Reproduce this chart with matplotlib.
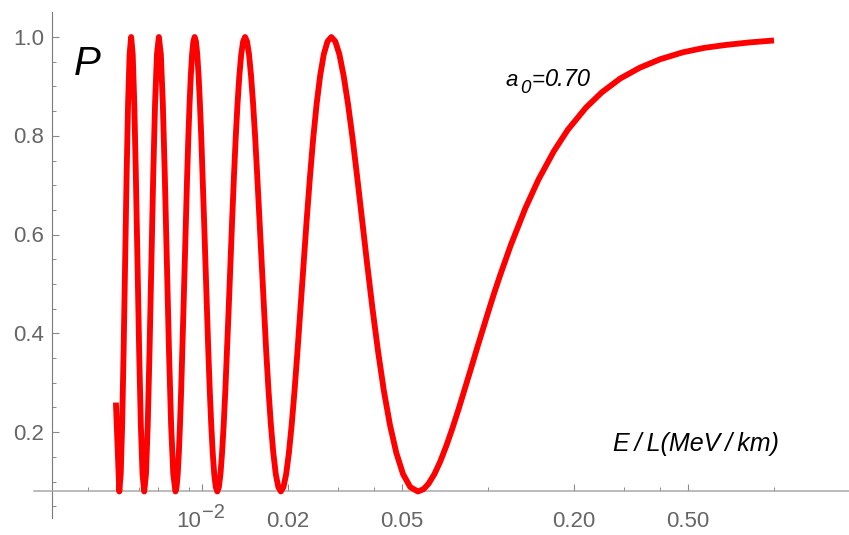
import matplotlib
matplotlib.use("Agg")
import matplotlib.pyplot as plt
from matplotlib.ticker import FixedLocator, NullFormatter

# ---- data ----
E_L = [0.005,
       0.0051387, 0.0051978, 0.0052583, 0.0053202, 0.0053836, 0.0054485, 0.0055150, 0.0055831,
       0.0056529, 0.0057245, 0.0057979, 0.0058733, 0.0059506, 0.0060300, 0.0061115, 0.0061953,
       0.0062814, 0.0063699, 0.0064610, 0.0065547, 0.0066511, 0.0067505, 0.0068528, 0.0069583,
       0.0070671, 0.0071794, 0.0072953, 0.0074150, 0.0075386, 0.0076665, 0.0077988, 0.0079357,
       0.0080775, 0.0081504, 0.0082245, 0.0083000, 0.0083770, 0.0084553, 0.0085351, 0.0086165,
       0.0086994, 0.0087840, 0.0088702, 0.0089581, 0.0090477, 0.0091392, 0.0092325, 0.0093278,
       0.0094251, 0.0095244, 0.0096258, 0.0097294, 0.0098353, 0.0099434, 0.010054, 0.010167,
       0.010283, 0.010401, 0.010522, 0.010646, 0.010773, 0.010903, 0.011036, 0.011172,
       0.011312, 0.011456, 0.011603, 0.011753, 0.011908, 0.012067, 0.012230, 0.012398,
       0.012571, 0.012748, 0.012930, 0.013118, 0.013311, 0.013510, 0.013715, 0.013926,
       0.014144, 0.014369, 0.014601, 0.014841, 0.015089, 0.015345, 0.015610, 0.015884,
       0.016168, 0.016463, 0.016768, 0.017085, 0.017414, 0.017756, 0.018112, 0.018482,
       0.018868, 0.019270, 0.019690, 0.020128, 0.020587, 0.021067, 0.021569, 0.022096,
       0.022650, 0.023232, 0.023845, 0.024491, 0.025173, 0.025894, 0.026658, 0.027468,
       0.028329, 0.029245, 0.030223, 0.031268, 0.032389, 0.033592, 0.034889, 0.036290,
       0.037807, 0.039457, 0.041258, 0.043232, 0.045403, 0.047804, 0.050473, 0.053458,
       0.056818,
       0.0595, 0.062, 0.065, 0.068, 0.0715, 0.075, 0.079, 0.083, 0.087, 0.092, 0.096,
       0.10, 0.105, 0.11, 0.12, 0.135, 0.15, 0.17, 0.19, 0.22, 0.25, 0.29, 0.34, 0.40,
       0.48, 0.57, 0.68, 0.82, 1.0]

P = [0.26,
     0.08, 0.115, 0.215, 0.364, 0.54, 0.716, 0.865, 0.965,
     1.0, 0.965, 0.865, 0.716, 0.54, 0.364, 0.215, 0.115,
     0.08, 0.115, 0.215, 0.364, 0.54, 0.716, 0.865, 0.965,
     1.0, 0.965, 0.865, 0.716, 0.54, 0.364, 0.215, 0.115,
     0.08, 0.089, 0.115, 0.158, 0.215, 0.284, 0.364, 0.450,
     0.54, 0.630, 0.716, 0.796, 0.865, 0.922, 0.965, 0.991,
     1.0, 0.991, 0.965, 0.922, 0.865, 0.796, 0.716, 0.630,
     0.54, 0.450, 0.364, 0.284, 0.215, 0.158, 0.115, 0.089,
     0.08, 0.089, 0.115, 0.158, 0.215, 0.284, 0.364, 0.450,
     0.54, 0.630, 0.716, 0.796, 0.865, 0.922, 0.965, 0.991,
     1.0, 0.991, 0.965, 0.922, 0.865, 0.796, 0.716, 0.630,
     0.54, 0.450, 0.364, 0.284, 0.215, 0.158, 0.115, 0.089,
     0.08, 0.089, 0.115, 0.158, 0.215, 0.284, 0.364, 0.450,
     0.54, 0.630, 0.716, 0.796, 0.865, 0.922, 0.965, 0.991,
     1.0, 0.991, 0.965, 0.922, 0.865, 0.796, 0.716, 0.630,
     0.54, 0.450, 0.364, 0.284, 0.215, 0.158, 0.115, 0.089,
     0.08,
     0.0846, 0.096, 0.1155, 0.140, 0.1725, 0.207, 0.2476, 0.288, 0.327, 0.374, 0.409,
     0.442, 0.481, 0.516, 0.578, 0.653, 0.711, 0.769, 0.812, 0.857, 0.888, 0.916, 0.938,
     0.955, 0.969, 0.978, 0.984, 0.989, 0.993]

x_major_ticks = [0.01, 0.02, 0.05, 0.2, 0.5]
x_major_labels = ["10", "0.02", "0.05", "0.20", "0.50"]
x_minor_ticks = [0.004, 0.005, 0.006, 0.007, 0.008, 0.009, 0.03, 0.04, 0.1, 0.3, 0.4, 1.0]
y_major_ticks = [0.2, 0.4, 0.6, 0.8, 1.0]
y_major_labels = ["0.2", "0.4", "0.6", "0.8", "1.0"]
y_minor_ticks = [0.05, 0.1, 0.15, 0.25, 0.3, 0.35, 0.45, 0.5, 0.55, 0.65, 0.7, 0.75,
                 0.85, 0.9, 0.95]

FONT = ["Liberation Sans", "DejaVu Sans"]
plt.rcParams["font.family"] = FONT

W, H = 849, 535
fig = plt.figure(figsize=(W / 100, H / 100), dpi=100)
ax = fig.add_axes([0, 0, 1, 1])
ax.set_xscale("log")
ax.set_xlim(0.0019667, 1.8288)
ax.set_ylim(-0.0081, 1.0749)

for s in ("top", "right"):
    ax.spines[s].set_visible(False)
ax.spines["left"].set_position(("data", 0.003))
ax.spines["bottom"].set_position(("data", 0.08))
ax.spines["left"].set_bounds(0.026, 1.05)
ax.spines["bottom"].set_bounds(0.00259, 1.8288)
ax.spines["left"].set_color("#7a7a7a")
ax.spines["left"].set_linewidth(0.8)
ax.spines["bottom"].set_color("#a8a8a8")
ax.spines["bottom"].set_linewidth(1.1)

ax.xaxis.set_major_locator(FixedLocator(x_major_ticks))
ax.xaxis.set_minor_locator(FixedLocator(x_minor_ticks))
ax.yaxis.set_major_locator(FixedLocator(y_major_ticks))
ax.yaxis.set_minor_locator(FixedLocator(y_minor_ticks))
for a in (ax.xaxis, ax.yaxis):
    a.set_major_formatter(NullFormatter())
    a.set_minor_formatter(NullFormatter())
ax.tick_params(axis="both", which="major", direction="in", length=5.0, width=0.8,
               color="#8a8a8a")
ax.tick_params(axis="both", which="minor", direction="in", length=2.8, width=0.7,
               color="#8a8a8a")

ax.plot(E_L, P, color="#ff0000", lw=4.2, solid_capstyle="butt",
        solid_joinstyle="round", clip_on=False, zorder=3)

label_color = "#666666"
TICK_FS = 16
# x tick labels (baseline aligned)
for v, lab in zip(x_major_ticks, x_major_labels):
    if lab == "10":
        ax.annotate("10", xy=(v, 1 - 527 / H), xycoords=("data", "axes fraction"),
                    xytext=(-1, 0), textcoords="offset pixels", ha="right",
                    va="baseline", fontsize=TICK_FS, color=label_color)
        ax.annotate("\u22122", xy=(v, 1 - 518 / H), xycoords=("data", "axes fraction"),
                    xytext=(0, 0), textcoords="offset pixels", ha="left",
                    va="baseline", fontsize=14.5, color=label_color)
    else:
        ax.annotate(lab, xy=(v, 1 - 527 / H), xycoords=("data", "axes fraction"),
                    ha="center", va="baseline", fontsize=TICK_FS, color=label_color)

# y tick labels
for v, lab in zip(y_major_ticks, y_major_labels):
    ax.annotate(lab, xy=(44 / W, v), xycoords=("axes fraction", "data"),
                xytext=(0, -7.5), textcoords="offset pixels",
                ha="right", va="baseline", fontsize=TICK_FS, color=label_color)

# annotations
fig.text(74 / W, 1 - 75 / H, "P", fontsize=29, style="italic", color="black",
         ha="left", va="baseline")
fig.text(506 / W, 1 - 86 / H, "a", fontsize=16, style="italic", color="black",
         ha="left", va="baseline")
fig.text(520 / W, 1 - 93 / H, "0", fontsize=13.5, style="italic", color="black",
         ha="left", va="baseline")
fig.text(532 / W, 1 - 86 / H, "=", fontsize=16, style="italic", color="black",
         ha="left", va="baseline")
fig.text(545 / W, 1 - 86 / H, "0.70", fontsize=17, style="italic", color="black",
         ha="left", va="baseline")
fig.text(613 / W, 1 - 451 / H, "E\u2009/\u2009L(MeV\u2009/\u2009km)", fontsize=18,
         style="italic", color="black", ha="left", va="baseline", family=FONT)

fig.savefig("out.png", dpi=100, facecolor="white")
